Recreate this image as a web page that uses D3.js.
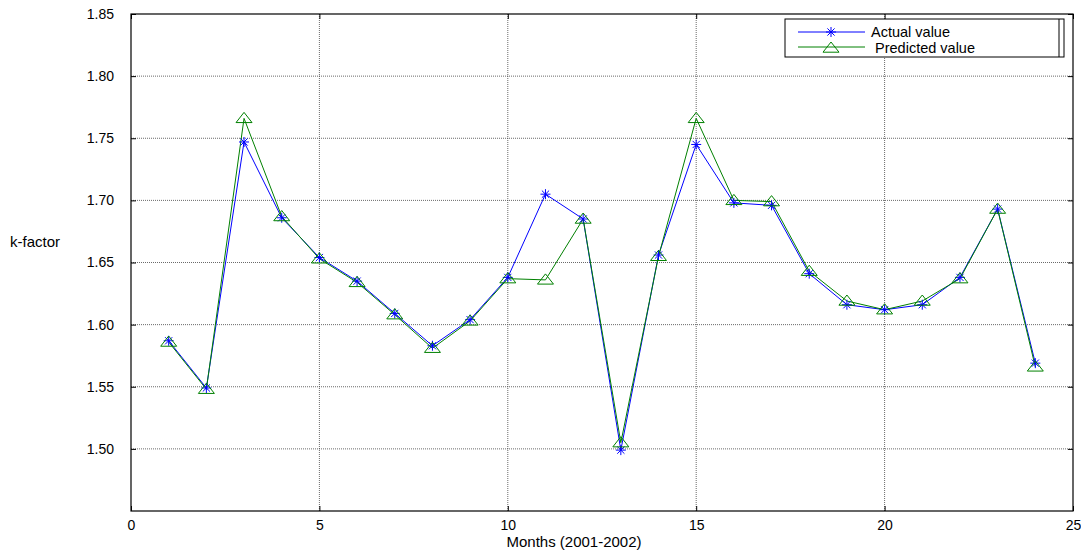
<!DOCTYPE html>
<html><head><meta charset="utf-8">
<script src="https://cdn.jsdelivr.net/npm/d3@7"></script>
<style>body{margin:0;background:#fff;}svg text{font-family:"Liberation Sans",Arial,sans-serif;}</style>
</head><body><svg id="c" width="1081" height="552"></svg>
<script>
const months = [1,2,3,4,5,6,7,8,9,10,11,12,13,14,15,16,17,18,19,20,21,22,23,24];
const actual = [1.587,1.549,1.747,1.686,1.654,1.635,1.609,1.583,1.604,1.638,1.705,1.685,1.499,1.656,1.745,1.698,1.696,1.641,1.616,1.612,1.616,1.638,1.693,1.569];
const predicted = [1.586,1.548,1.766,1.687,1.653,1.634,1.608,1.581,1.603,1.637,1.636,1.685,1.505,1.655,1.766,1.700,1.699,1.643,1.619,1.612,1.619,1.637,1.693,1.566];
const xTicks = [0,5,10,15,20,25];
const yTicks = [1.50,1.55,1.60,1.65,1.70,1.75,1.80,1.85];
const seriesNames = ["Actual value"," Predicted value"];

const svg = d3.select("#c");
const L=131, R=1073, T=14, B=511;
const x = d3.scaleLinear().domain([0,25]).range([L,R]);
const y = d3.scaleLinear().domain([1.45,1.85]).range([B,T]);

// grid
const g = svg.append("g");
g.selectAll(".gx").data(xTicks.slice(1,-1)).enter().append("line")
  .attr("x1",d=>x(d)).attr("x2",d=>x(d)).attr("y1",T).attr("y2",B)
  .attr("stroke","#444").attr("stroke-width",0.8).attr("stroke-dasharray","1,1");
g.selectAll(".gy").data(yTicks.filter(v=>v<1.849)).enter().append("line")
  .attr("x1",L).attr("x2",R).attr("y1",d=>y(d)).attr("y2",d=>y(d))
  .attr("stroke","#444").attr("stroke-width",0.8).attr("stroke-dasharray","1,1");

// axes
const fmt = d3.format(".2f");
svg.append("g").attr("transform",`translate(${L},0)`)
  .call(d3.axisLeft(y).tickValues(yTicks).tickFormat(fmt).tickSizeInner(-5).tickSizeOuter(0).tickPadding(17))
  .call(a=>{a.select(".domain").remove();a.selectAll("text").attr("font-size",14).attr("fill","#000");a.selectAll("line").attr("stroke","#000");});
svg.append("g").attr("transform",`translate(${R},0)`)
  .call(d3.axisRight(y).tickValues(yTicks).tickFormat("").tickSizeInner(-5).tickSizeOuter(0))
  .call(a=>{a.select(".domain").remove();a.selectAll("line").attr("stroke","#000");});
svg.append("g").attr("transform",`translate(0,${B})`)
  .call(d3.axisBottom(x).tickValues(xTicks).tickFormat(d3.format("d")).tickSizeInner(-5).tickSizeOuter(0).tickPadding(9))
  .call(a=>{a.select(".domain").remove();a.selectAll("text").attr("font-size",14).attr("fill","#000");a.selectAll("line").attr("stroke","#000");});
svg.append("g").attr("transform",`translate(0,${T})`)
  .call(d3.axisTop(x).tickValues(xTicks).tickFormat("").tickSizeInner(-5).tickSizeOuter(0))
  .call(a=>{a.select(".domain").remove();a.selectAll("line").attr("stroke","#000");});
svg.append("rect").attr("x",L).attr("y",T).attr("width",R-L).attr("height",B-T)
  .attr("fill","none").attr("stroke","#000").attr("stroke-width",1.2);

// labels
svg.append("text").attr("x",10).attr("y",247).attr("font-size",15).text("k-factor");
svg.append("text").attr("x",574).attr("y",547).attr("text-anchor","middle").attr("font-size",15).text("Months (2001-2002)");

// lines
const line = vals => d3.line().x((d,i)=>x(months[i])).y(d=>y(d))(vals);
svg.append("path").attr("d",line(actual)).attr("fill","none").attr("stroke","#0000ff").attr("stroke-width",1);
svg.append("path").attr("d",line(predicted)).attr("fill","none").attr("stroke","#008000").attr("stroke-width",1);

function star(sel, cx, cy){
  const r=5, s=3.6;
  const p=`M${cx-r},${cy}L${cx+r},${cy}M${cx},${cy-r}L${cx},${cy+r}M${cx-s},${cy-s}L${cx+s},${cy+s}M${cx-s},${cy+s}L${cx+s},${cy-s}`;
  sel.append("path").attr("d",p).attr("stroke","#0000ff").attr("stroke-width",1).attr("fill","none");
}
function tri(sel, cx, cy){
  const w=8, h=6;
  const p=`M${cx},${cy-h}L${cx+w},${cy+h*0.7}L${cx-w},${cy+h*0.7}Z`;
  sel.append("path").attr("d",p).attr("stroke","#008000").attr("stroke-width",1).attr("fill","none");
}
const mk = svg.append("g");
actual.forEach((v,i)=>star(mk,x(months[i]),y(v)));
predicted.forEach((v,i)=>tri(mk,x(months[i]),y(v)));

// legend
const lg = svg.append("g");
lg.append("rect").attr("x",785).attr("y",19).attr("width",279).attr("height",38).attr("fill","#fff").attr("stroke","#000").attr("stroke-width",1);
lg.append("line").attr("x1",1059).attr("x2",1059).attr("y1",19).attr("y2",57).attr("stroke","#000");
lg.append("line").attr("x1",798).attr("x2",865).attr("y1",32).attr("y2",32).attr("stroke","#0000ff");
star(lg,831,32);
lg.append("line").attr("x1",798).attr("x2",865).attr("y1",47).attr("y2",47).attr("stroke","#008000");
tri(lg,831,48);
lg.append("text").attr("x",871).attr("y",37).attr("font-size",14.5).text(seriesNames[0]);
lg.append("text").attr("x",871).attr("y",53).attr("font-size",14.5).attr("xml:space","preserve").style("white-space","pre").text(seriesNames[1]);
</script></body></html>
